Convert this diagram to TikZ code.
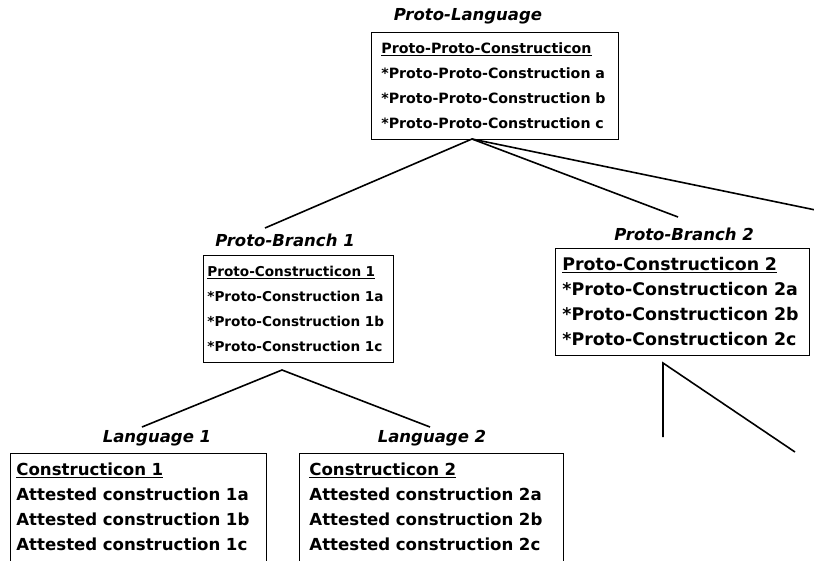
\documentclass[tikz,border=0pt]{standalone}
\usepackage{fontspec}
\setmainfont{DejaVu Sans}
\usepackage{tikz}
\usetikzlibrary{positioning}

\begin{document}
\begin{tikzpicture}[x=1pt, y=-1pt,
    stage/.style={font=\fontsize{16.5}{20}\selectfont\bfseries\itshape},
    cbox/.style={draw, line width=0.8pt, anchor=north west, align=left,
        minimum height=107pt, inner ysep=0pt},
    branch/.style={line width=1.6pt}]
    \useasboundingbox (0,0) rectangle (814,560);

    % proto-language
    \node[stage] (plang) at (468,16) {Proto-Language};
    \node[cbox, text width=227pt, inner xsep=10pt, font=\fontsize{14.2}{25}\selectfont\bfseries]
        (pp) at (371,32) {\underline{Proto-Proto-Constructicon}\\
        {*}Proto-Proto-Construction a\\
        {*}Proto-Proto-Construction b\\
        {*}Proto-Proto-Construction c};

    % proto-branches
    \node[stage] (pb1-lbl) at (285,240) {Proto-Branch 1};
    \node[cbox, text width=182pt, inner xsep=4pt, font=\fontsize{13.6}{25}\selectfont\bfseries]
        (pb1) at (203,255) {\underline{Proto-Constructicon 1}\\
        {*}Proto-Construction 1a\\
        {*}Proto-Construction 1b\\
        {*}Proto-Construction 1c};

    \node[stage] (pb2-lbl) at (684,234) {Proto-Branch 2};
    \node[cbox, text width=240pt, inner xsep=7pt, font=\fontsize{17.4}{25}\selectfont\bfseries]
        (pb2) at (555,248) {\underline{Proto-Constructicon 2}\\
        {*}Proto-Constructicon 2a\\
        {*}Proto-Constructicon 2b\\
        {*}Proto-Constructicon 2c};

    % languages
    \node[stage] (l1-lbl) at (157,438) {Language 1};
    \node[cbox, text width=244pt, inner xsep=6pt, minimum height=114pt, font=\fontsize{16.6}{25}\selectfont\bfseries]
        (l1) at (10,453) {\underline{Constructicon 1}\\
        Attested construction 1a\\
        Attested construction 1b\\
        Attested construction 1c\rule[-7pt]{0pt}{7pt}};

    \node[stage] (l2-lbl) at (432,438) {Language 2};
    \node[cbox, text width=244pt, inner xsep=10pt, minimum height=114pt, font=\fontsize{16.6}{25}\selectfont\bfseries]
        (l2) at (299,453) {\underline{Constructicon 2}\\
        Attested construction 2a\\
        Attested construction 2b\\
        Attested construction 2c\rule[-7pt]{0pt}{7pt}};

    % tree branches
    \coordinate (pp-fork) at (472,139);
    \coordinate (pb1-top) at (265,228);
    \coordinate (pb2-top) at (678,217);
    \coordinate (pb3-top) at (830,213);
    \draw[branch] (pb1-top) -- (pp-fork) -- (pb2-top);
    \draw[branch] (pp-fork) -- (pb3-top);

    \coordinate (pb1-fork) at (282,370);
    \coordinate (l1-top) at (142,427);
    \coordinate (l2-top) at (430,427);
    \draw[branch] (l1-top) -- (pb1-fork) -- (l2-top);

    \coordinate (pb2-fork) at (663,363);
    \coordinate (l3-top) at (663,437);
    \coordinate (l4-top) at (795,452);
    \draw[branch] (l3-top) -- (pb2-fork) -- (l4-top);
\end{tikzpicture}
\end{document}
